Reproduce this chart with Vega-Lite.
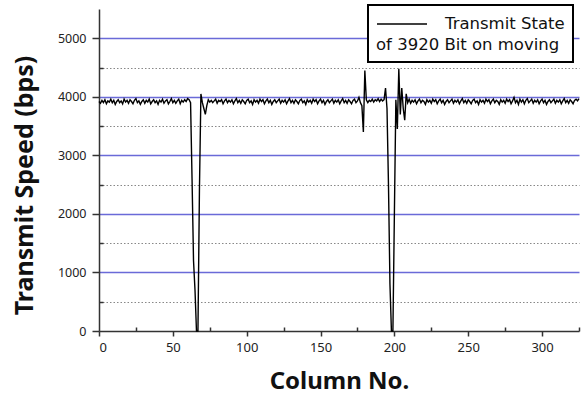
{
  "$schema": "https://vega.github.io/schema/vega-lite/v6.json",
  "autosize": "none",
  "width": 480,
  "height": 322,
  "padding": {"left": 99, "top": 9, "right": 7, "bottom": 64},
  "background": "white",
  "config": {"view": {"stroke": null}, "font": "Noto Sans"},
  "data": {"values": [
{"c":0,"s":3920},{"c":1,"s":3890},{"c":2,"s":3940},{"c":3,"s":3900},{"c":4,"s":3950},{"c":5,"s":3880},{"c":6,"s":3930},{"c":7,"s":3910},{"c":8,"s":3960},{"c":9,"s":3900},
{"c":10,"s":3940},{"c":11,"s":3870},{"c":12,"s":3920},{"c":13,"s":3950},{"c":14,"s":3900},{"c":15,"s":3930},{"c":16,"s":3880},{"c":17,"s":3960},{"c":18,"s":3910},{"c":19,"s":3940},
{"c":20,"s":3890},{"c":21,"s":3950},{"c":22,"s":3920},{"c":23,"s":3880},{"c":24,"s":3940},{"c":25,"s":3970},{"c":26,"s":3900},{"c":27,"s":3930},{"c":28,"s":3870},{"c":29,"s":3920},
{"c":30,"s":3950},{"c":31,"s":3890},{"c":32,"s":3940},{"c":33,"s":3910},{"c":34,"s":3960},{"c":35,"s":3880},{"c":36,"s":3920},{"c":37,"s":3950},{"c":38,"s":3900},{"c":39,"s":3930},
{"c":40,"s":3870},{"c":41,"s":3940},{"c":42,"s":3910},{"c":43,"s":3960},{"c":44,"s":3890},{"c":45,"s":3930},{"c":46,"s":3950},{"c":47,"s":3880},{"c":48,"s":3920},{"c":49,"s":3970},
{"c":50,"s":3900},{"c":51,"s":3940},{"c":52,"s":3890},{"c":53,"s":3930},{"c":54,"s":3960},{"c":55,"s":3880},{"c":56,"s":3940},{"c":57,"s":3910},{"c":58,"s":3950},{"c":59,"s":3920},
{"c":60,"s":3970},{"c":61,"s":3950},{"c":62,"s":3900},{"c":63,"s":2600},{"c":64,"s":1200},{"c":65,"s":700},{"c":66,"s":0},{"c":67,"s":0},{"c":68,"s":2400},{"c":69,"s":4050},
{"c":70,"s":3900},{"c":71,"s":3800},{"c":72,"s":3700},{"c":73,"s":3850},{"c":74,"s":3950},{"c":75,"s":3910},{"c":76,"s":3940},{"c":77,"s":3900},{"c":78,"s":3930},{"c":79,"s":3960},
{"c":80,"s":3890},{"c":81,"s":3940},{"c":82,"s":3920},{"c":83,"s":3950},{"c":84,"s":3880},{"c":85,"s":3930},{"c":86,"s":3960},{"c":87,"s":3900},{"c":88,"s":3940},{"c":89,"s":3910},
{"c":90,"s":3950},{"c":91,"s":3880},{"c":92,"s":3930},{"c":93,"s":3970},{"c":94,"s":3900},{"c":95,"s":3940},{"c":96,"s":3890},{"c":97,"s":3950},{"c":98,"s":3920},{"c":99,"s":3880},
{"c":100,"s":3940},{"c":101,"s":3960},{"c":102,"s":3900},{"c":103,"s":3930},{"c":104,"s":3870},{"c":105,"s":3950},{"c":106,"s":3910},{"c":107,"s":3940},{"c":108,"s":3890},{"c":109,"s":3960},
{"c":110,"s":3920},{"c":111,"s":3950},{"c":112,"s":3880},{"c":113,"s":3930},{"c":114,"s":3960},{"c":115,"s":3900},{"c":116,"s":3940},{"c":117,"s":3870},{"c":118,"s":3920},{"c":119,"s":3950},
{"c":120,"s":3900},{"c":121,"s":3930},{"c":122,"s":3960},{"c":123,"s":3890},{"c":124,"s":3940},{"c":125,"s":3910},{"c":126,"s":3950},{"c":127,"s":3880},{"c":128,"s":3930},{"c":129,"s":3970},
{"c":130,"s":3900},{"c":131,"s":3940},{"c":132,"s":3890},{"c":133,"s":3950},{"c":134,"s":3920},{"c":135,"s":3880},{"c":136,"s":3940},{"c":137,"s":3960},{"c":138,"s":3900},{"c":139,"s":3930},
{"c":140,"s":3870},{"c":141,"s":3950},{"c":142,"s":3910},{"c":143,"s":3940},{"c":144,"s":3890},{"c":145,"s":3960},{"c":146,"s":3920},{"c":147,"s":3950},{"c":148,"s":3880},{"c":149,"s":3930},
{"c":150,"s":3960},{"c":151,"s":3900},{"c":152,"s":3940},{"c":153,"s":3870},{"c":154,"s":3920},{"c":155,"s":3950},{"c":156,"s":3900},{"c":157,"s":3930},{"c":158,"s":3960},{"c":159,"s":3890},
{"c":160,"s":3940},{"c":161,"s":3910},{"c":162,"s":3950},{"c":163,"s":3880},{"c":164,"s":3930},{"c":165,"s":3970},{"c":166,"s":3900},{"c":167,"s":3940},{"c":168,"s":3890},{"c":169,"s":3950},
{"c":170,"s":3920},{"c":171,"s":3880},{"c":172,"s":3940},{"c":173,"s":3960},{"c":174,"s":3900},{"c":175,"s":3930},{"c":176,"s":3990},{"c":177,"s":3900},{"c":178,"s":3850},{"c":179,"s":3400},
{"c":180,"s":4450},{"c":181,"s":3950},{"c":182,"s":3900},{"c":183,"s":3940},{"c":184,"s":3920},{"c":185,"s":3960},{"c":186,"s":3910},{"c":187,"s":3950},{"c":188,"s":3930},{"c":189,"s":3970},
{"c":190,"s":3920},{"c":191,"s":3960},{"c":192,"s":3930},{"c":193,"s":3950},{"c":194,"s":4150},{"c":195,"s":3800},{"c":196,"s":2500},{"c":197,"s":800},{"c":198,"s":0},{"c":199,"s":0},
{"c":200,"s":2000},{"c":201,"s":3950},{"c":202,"s":3450},{"c":203,"s":4480},{"c":204,"s":3700},{"c":205,"s":4150},{"c":206,"s":3800},{"c":207,"s":3600},{"c":208,"s":4050},{"c":209,"s":3900},
{"c":210,"s":3960},{"c":211,"s":3890},{"c":212,"s":3940},{"c":213,"s":3910},{"c":214,"s":3950},{"c":215,"s":3880},{"c":216,"s":3930},{"c":217,"s":3960},{"c":218,"s":3900},{"c":219,"s":3940},
{"c":220,"s":3920},{"c":221,"s":3870},{"c":222,"s":3950},{"c":223,"s":3910},{"c":224,"s":3940},{"c":225,"s":3890},{"c":226,"s":3960},{"c":227,"s":3920},{"c":228,"s":3950},{"c":229,"s":3880},
{"c":230,"s":3930},{"c":231,"s":3960},{"c":232,"s":3900},{"c":233,"s":3940},{"c":234,"s":3870},{"c":235,"s":3920},{"c":236,"s":3950},{"c":237,"s":3900},{"c":238,"s":3930},{"c":239,"s":3960},
{"c":240,"s":3890},{"c":241,"s":3940},{"c":242,"s":3910},{"c":243,"s":3950},{"c":244,"s":3880},{"c":245,"s":3930},{"c":246,"s":3970},{"c":247,"s":3900},{"c":248,"s":3940},{"c":249,"s":3890},
{"c":250,"s":3950},{"c":251,"s":3920},{"c":252,"s":3880},{"c":253,"s":3940},{"c":254,"s":3960},{"c":255,"s":3900},{"c":256,"s":3930},{"c":257,"s":3870},{"c":258,"s":3950},{"c":259,"s":3910},
{"c":260,"s":3940},{"c":261,"s":3890},{"c":262,"s":3960},{"c":263,"s":3920},{"c":264,"s":3950},{"c":265,"s":3880},{"c":266,"s":3930},{"c":267,"s":3960},{"c":268,"s":3900},{"c":269,"s":3940},
{"c":270,"s":3920},{"c":271,"s":3870},{"c":272,"s":3950},{"c":273,"s":3910},{"c":274,"s":3940},{"c":275,"s":3890},{"c":276,"s":3960},{"c":277,"s":3920},{"c":278,"s":3950},{"c":279,"s":3880},
{"c":280,"s":3930},{"c":281,"s":3990},{"c":282,"s":3900},{"c":283,"s":3940},{"c":284,"s":3870},{"c":285,"s":3960},{"c":286,"s":3910},{"c":287,"s":3950},{"c":288,"s":3880},{"c":289,"s":3940},
{"c":290,"s":3970},{"c":291,"s":3900},{"c":292,"s":3930},{"c":293,"s":3960},{"c":294,"s":3890},{"c":295,"s":3940},{"c":296,"s":3910},{"c":297,"s":3950},{"c":298,"s":3880},{"c":299,"s":3930},
{"c":300,"s":3960},{"c":301,"s":3900},{"c":302,"s":3940},{"c":303,"s":3870},{"c":304,"s":3920},{"c":305,"s":3950},{"c":306,"s":3900},{"c":307,"s":3930},{"c":308,"s":3960},{"c":309,"s":3890},
{"c":310,"s":3940},{"c":311,"s":3910},{"c":312,"s":3950},{"c":313,"s":3880},{"c":314,"s":3930},{"c":315,"s":3970},{"c":316,"s":3900},{"c":317,"s":3940},{"c":318,"s":3890},{"c":319,"s":3950},
{"c":320,"s":3920},{"c":321,"s":3880},{"c":322,"s":3940},{"c":323,"s":3960},{"c":324,"s":3930},{"c":325,"s":3970}
  ]},
  "mark": {"type": "line", "strokeWidth": 1.4, "interpolate": "linear"},
  "encoding": {
    "x": {
      "field": "c", "type": "quantitative",
      "scale": {"domain": [0, 325], "nice": false, "zero": false},
      "axis": {
        "title": "Column No.",
        "titleFontSize": 24, "titleFontWeight": "bold", "titleColor": "#111", "titlePadding": 15,
        "values": [0,25,50,75,100,125,150,175,200,225,250,275,300,325],
        "labelExpr": "datum.value % 50 === 0 ? datum.label : ''",
        "labelFontSize": 13, "labelColor": "#222", "labelPadding": 5,
        "tickSize": {"condition": {"test": "datum.value % 50 === 0", "value": 5}, "value": -4},
        "tickColor": "#333", "tickWidth": 1.5,
        "domainColor": "#333", "domainWidth": 1.5,
        "grid": false
      }
    },
    "y": {
      "field": "s", "type": "quantitative",
      "scale": {"domain": [0, 5500], "nice": false, "zero": true},
      "axis": {
        "title": "Transmit Speed (bps)",
        "titleFontSize": 25, "titleFontWeight": "bold", "titleColor": "#111", "titlePadding": 20,
        "titleY": 176,
        "values": [0,500,1000,1500,2000,2500,3000,3500,4000,4500,5000],
        "labelExpr": "datum.value % 1000 === 0 ? datum.label : ''",
        "format": "d",
        "labelFontSize": 12.5, "labelColor": "#222", "labelPadding": 6,
        "tickSize": {"condition": {"test": "datum.value % 1000 === 0", "value": 7}, "value": -4},
        "tickColor": "#333", "tickWidth": 1.5,
        "domainColor": "#333", "domainWidth": 1.5,
        "grid": true,
        "gridColor": {"condition": {"test": "datum.value % 1000 === 0", "value": "#6a6ad8"}, "value": "#888888"},
        "gridDash": {"condition": {"test": "datum.value % 1000 === 0", "value": []}, "value": [1.5, 2]},
        "gridWidth": {"condition": {"test": "datum.value % 1000 === 0", "value": 1.3}, "value": 1.2},
        "gridOpacity": {"condition": {"test": "datum.value === 0", "value": 0}, "value": 1}
      }
    },
    "color": {
      "datum": "Transmit State",
      "type": "nominal",
      "scale": {"range": ["black"]},
      "legend": {
        "orient": "none", "legendX": 269, "legendY": -4,
        "title": "of 3920 Bit on moving",
        "titleOrient": "bottom", "titleLimit": 400,
        "titleFont": "DejaVu Sans", "labelFont": "DejaVu Sans",
        "titleFontSize": 16.5, "titleFontWeight": "normal", "titleColor": "#111", "titlePadding": 4,
        "labelFontSize": 16.5, "labelColor": "#111", "labelOffset": 47, "labelLimit": 300,
        "symbolType": "M-1,0H4", "symbolSize": 400, "symbolStrokeWidth": 1.5, "symbolStrokeColor": "black", "symbolFillColor": "transparent",
        "strokeColor": "black", "padding": 8,
        "encode": {"legend": {"update": {"strokeWidth": {"value": 2}, "fill": {"value": "white"}}}}
      }
    }
  }
}
